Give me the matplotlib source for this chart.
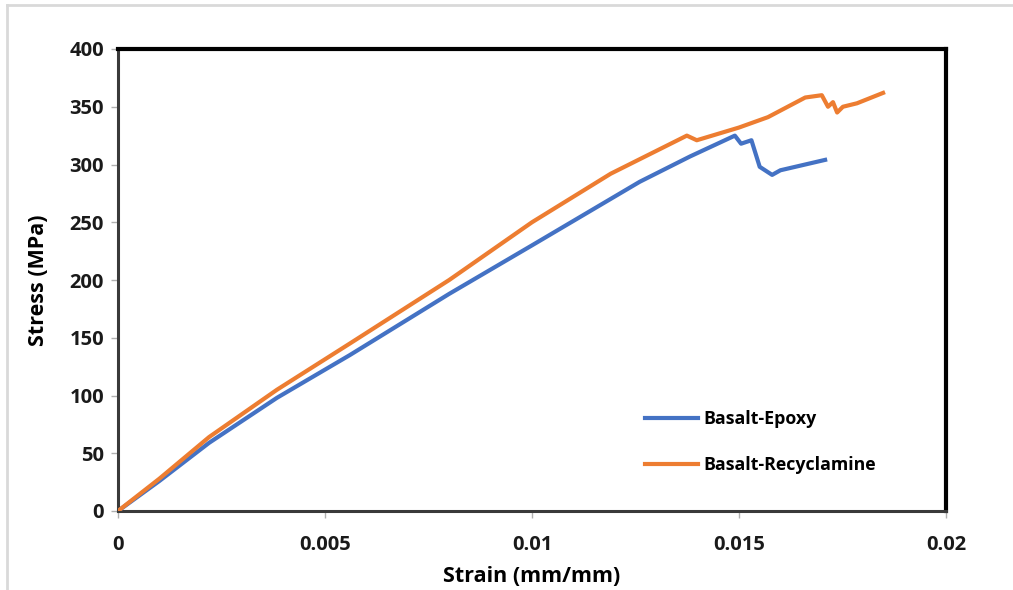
import matplotlib.pyplot as plt
from matplotlib.lines import Line2D

# Dati
epoxy_strain = [0, 0.001, 0.0022, 0.00384, 0.0056, 0.008, 0.01, 0.0126, 0.01382, 0.0149,
                0.01505, 0.0153, 0.0155, 0.0158, 0.016, 0.01708]
epoxy_stress = [0, 26, 59, 98, 135, 188, 230, 285, 307, 325,
                318, 321, 298, 291, 295, 304]

recy_strain = [0, 0.001, 0.0022, 0.00384, 0.0056, 0.008, 0.01, 0.0119, 0.01374,
               0.01398, 0.0150, 0.0157, 0.0166, 0.0170, 0.01715, 0.01727, 0.01737,
               0.01751, 0.01785, 0.01848]
recy_stress = [0, 28, 64, 105, 145, 200, 250, 292, 325,
               321, 332, 341, 358, 360, 350, 354, 345,
               350, 353, 362]

x_ticks = [0, 0.005, 0.01, 0.015, 0.02]
x_labels = ['0', '0.005', '0.01', '0.015', '0.02']
y_ticks = [0, 50, 100, 150, 200, 250, 300, 350, 400]

plt.rcParams['font.family'] = ['Open Sans', 'DejaVu Sans']

fig = plt.figure(figsize=(10.13, 5.90), dpi=100)
ax = fig.add_axes([118 / 1013, 1 - 511 / 590, (946 - 118) / 1013, (511 - 49) / 590])

ax.plot(epoxy_strain, epoxy_stress, color='#4472C4', lw=3, label='Basalt-Epoxy',
        solid_joinstyle='round', zorder=3)
ax.plot(recy_strain, recy_stress, color='#ED7D31', lw=3, label='Basalt-Recyclamine',
        solid_joinstyle='round', zorder=3)

ax.set_xlim(0, 0.02)
ax.set_ylim(0, 400)
ax.set_xticks(x_ticks)
ax.set_xticklabels(x_labels)
ax.set_yticks(y_ticks)

# Bordi: sopra/destra neri, sinistra/sotto grigio scuro
for s in ['top', 'right']:
    ax.spines[s].set_color('black')
    ax.spines[s].set_linewidth(3)
for s in ['left', 'bottom']:
    ax.spines[s].set_color('#3a3a3a')
    ax.spines[s].set_linewidth(2.2)

ax.tick_params(axis='both', direction='out', length=5, width=1, color='#b0b0b0',
               labelsize=14.5, labelcolor='#1a1a1a')
ax.tick_params(axis='x', pad=12)
ax.tick_params(axis='y', pad=5)
for lbl in ax.get_xticklabels() + ax.get_yticklabels():
    lbl.set_fontweight('bold')

ax.set_xlabel('Strain (mm/mm)', fontsize=15.5, fontweight='bold', labelpad=8)
ax.set_ylabel('Stress (MPa)', fontsize=15.5, fontweight='bold', labelpad=15)

ax.legend(loc='lower right', bbox_to_anchor=(0.935, 0.045), frameon=False,
          handlelength=3.0, labelspacing=1.6, handletextpad=0.3,
          prop={'weight': 'bold', 'size': 12.8})

# Cornice grigia chiara del grafico
fig.add_artist(Line2D([7 / 1013, 1], [1 - 5 / 590, 1 - 5 / 590], color='#d9d9d9',
                      lw=2, transform=fig.transFigure))
fig.add_artist(Line2D([7 / 1013, 7 / 1013], [0, 1 - 5 / 590], color='#d9d9d9',
                      lw=2, transform=fig.transFigure))

fig.savefig('out.png', dpi=100)
